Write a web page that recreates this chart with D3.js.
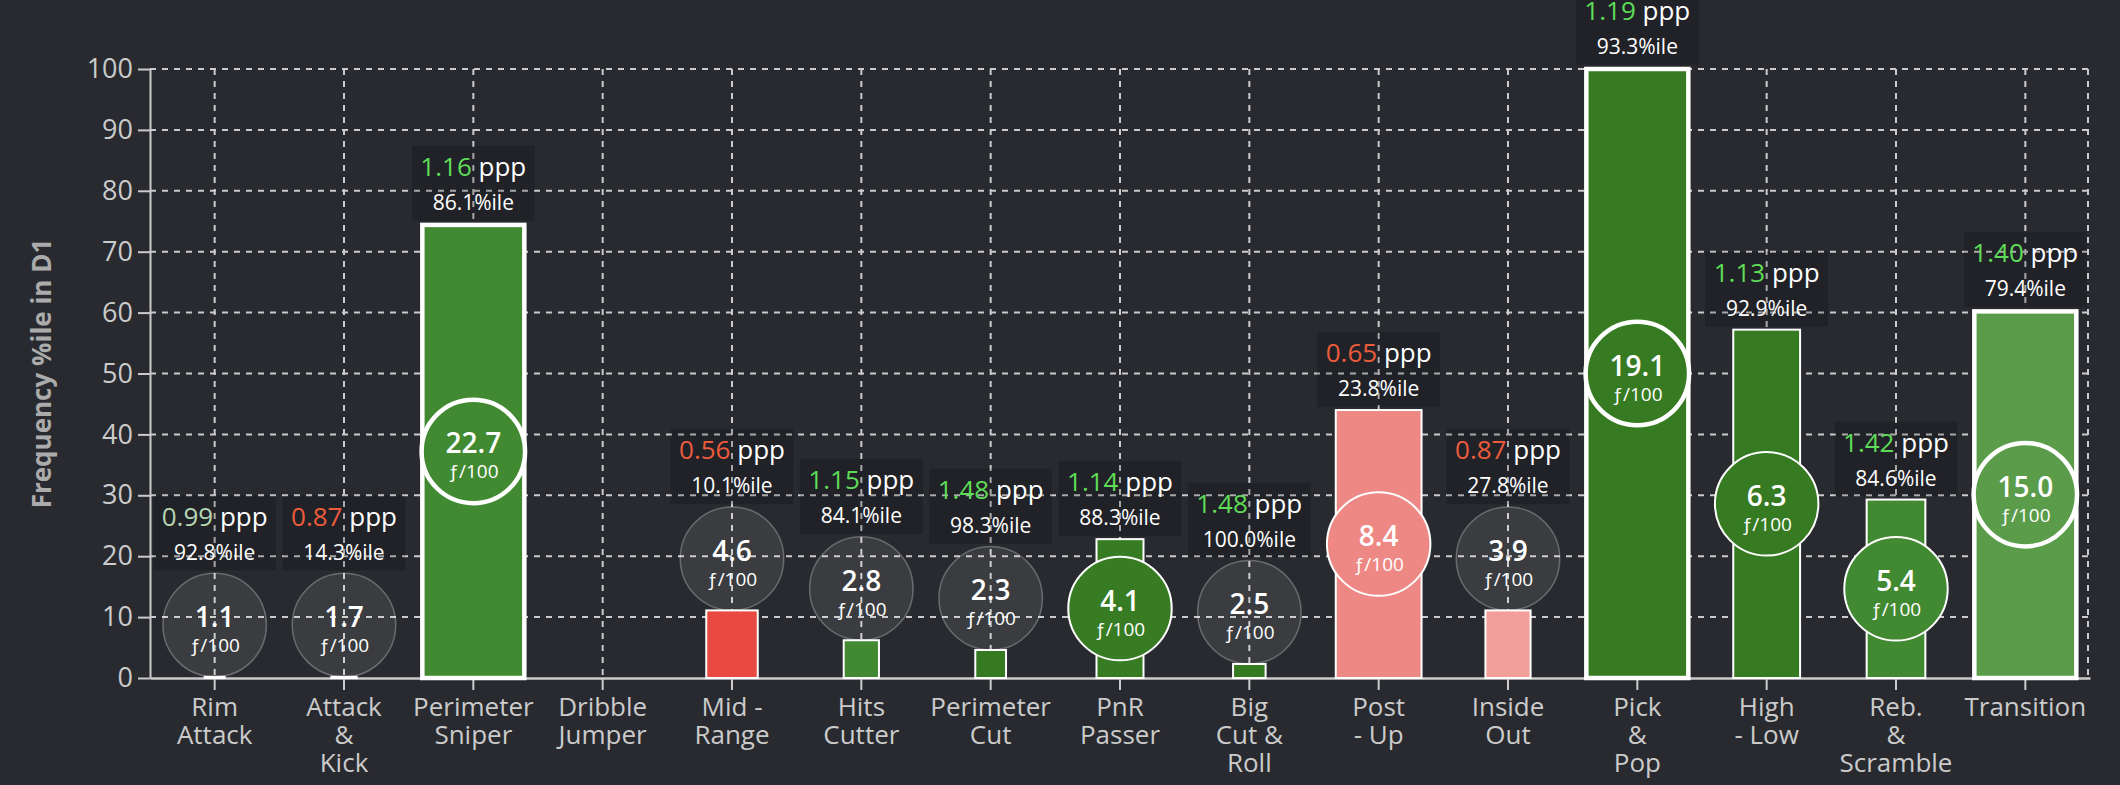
<!DOCTYPE html>
<html>
<head>
<meta charset="utf-8">
<script src="https://cdn.jsdelivr.net/npm/d3@7"></script>
<style>
  html, body { margin: 0; padding: 0; background: #282a2f; }
  svg { display: block; font-family: "Open Sans", "Noto Sans", sans-serif; }
</style>
</head>
<body>
<svg id="chart" width="2120" height="785"></svg>
<script>
// ---------------- DATA ----------------
const categories = [
  "Rim\nAttack", "Attack\n&\nKick", "Perimeter\nSniper", "Dribble\nJumper", "Mid -\nRange",
  "Hits\nCutter", "Perimeter\nCut", "PnR\nPasser", "Big\nCut &\nRoll", "Post\n- Up",
  "Inside\nOut", "Pick\n&\nPop", "High\n- Low", "Reb.\n&\nScramble", "Transition"
];
// bar height: frequency percentile in D1
const freqPct = [0.2, 0.2, 74.4, null, 11.1, 6.2, 4.6, 22.8, 2.3, 44.0, 11.1, 100, 57.2, 29.3, 60.2];
// possessions per 100 (circle label, bar width)
const fPer100 = [1.1, 1.7, 22.7, null, 4.6, 2.8, 2.3, 4.1, 2.5, 8.4, 3.9, 19.1, 6.3, 5.4, 15.0];
// points per possession
const ppp = [0.99, 0.87, 1.16, null, 0.56, 1.15, 1.48, 1.14, 1.48, 0.65, 0.87, 1.19, 1.13, 1.42, 1.40];
// ppp percentile
const pppPct = [92.8, 14.3, 86.1, null, 10.1, 84.1, 98.3, 88.3, 100.0, 23.8, 27.8, 93.3, 92.9, 84.6, 79.4];
const yTicks = [0, 10, 20, 30, 40, 50, 60, 70, 80, 90, 100];
const yTitle = "Frequency %ile in D1";

// ---------------- SETUP ----------------
const svg = d3.select("#chart");
const M = { left: 150, right: 2090, top: 69, bottom: 678 };
const AX = "#cbcbcb";

const x = d3.scaleBand().domain(categories).range([M.left, M.right]).padding(0);
const y = d3.scaleLinear().domain([0, 100]).range([M.bottom, M.top]);
const bw = x.bandwidth();
const r = bw * 0.4;
const widthScale = d3.scaleLinear().domain([0, 10.2]).range([10, 102]).clamp(true);
const strokeScale = d3.scaleThreshold().domain([10.2]).range([2, 4.5]);
const barColor = d3.scaleLinear()
  .domain([10, 24, 28, 50, 79.4, 84, 87, 88.3, 100])
  .range(["#e84a42", "#ee8985", "#f2a09d", "#eeeeee", "#5a9c4a", "#428a32", "#418a31", "#377b23", "#357921"])
  .clamp(true);
const pppColor = d3.scaleThreshold().domain([0.9, 1.05]).range(["#ec5b3c", "#b6d6b2", "#5edc58"]);

const rows = categories.map((c, i) => ({
  c, freq: freqPct[i], f: fPer100[i], ppp: ppp[i], pct: pppPct[i]
})).filter(d => d.freq != null);

rows.forEach(d => {
  d.cx = x(d.c) + bw / 2;
  d.w = widthScale(d.f);
  d.sw = strokeScale(d.f);
  d.top = y(d.freq);
  d.h = y(0) - y(d.freq);
  d.inside = d.h >= 2 * r;
  d.cy = d.inside ? d.top + d.h / 2 : d.top - r;
  d.csw = d.inside ? d.sw : 1.5;
  d.boxBottom = Math.min(d.top - d.sw / 2, d.cy - r - d.csw / 2) - 2;
});

// ---------------- GRID ----------------
const grid = svg.append("g");
grid.selectAll("line.h").data(yTicks.filter(t => t > 0)).join("line")
  .attr("x1", M.left).attr("x2", M.right)
  .attr("y1", d => y(d)).attr("y2", d => y(d))
  .attr("stroke", AX).attr("stroke-width", 2).attr("stroke-dasharray", "6,6");
grid.selectAll("line.v").data(categories).join("line")
  .attr("x1", d => x(d) + bw / 2).attr("x2", d => x(d) + bw / 2)
  .attr("y1", y(100)).attr("y2", y(0))
  .attr("stroke", AX).attr("stroke-width", 2).attr("stroke-dasharray", "6,6");
grid.append("line")
  .attr("x1", M.right - 2).attr("x2", M.right - 2)
  .attr("y1", y(100)).attr("y2", y(0))
  .attr("stroke", AX).attr("stroke-width", 2).attr("stroke-dasharray", "6,6");

// ---------------- AXES ----------------
const yAxisG = svg.append("g").attr("transform", `translate(${M.left},0)`)
  .call(d3.axisLeft(y).tickValues(yTicks).tickSize(12).tickSizeOuter(0).tickPadding(5));
yAxisG.select(".domain").attr("stroke", AX).attr("stroke-width", 2);
yAxisG.selectAll(".tick line").attr("stroke", AX).attr("stroke-width", 2);
yAxisG.selectAll(".tick text").attr("fill", AX).style("font-size", "27px")
  .style("font-family", "'Open Sans', sans-serif");

const xAxisG = svg.append("g").attr("transform", `translate(0,${M.bottom})`)
  .call(d3.axisBottom(x).tickSize(12).tickSizeOuter(0).tickPadding(8));
xAxisG.select(".domain").attr("stroke", AX).attr("stroke-width", 2.5);
xAxisG.selectAll(".tick line").attr("stroke", AX).attr("stroke-width", 2);
xAxisG.selectAll(".tick text")
  .attr("fill", AX).style("font-size", "26px").style("font-family", "'Open Sans', sans-serif")
  .each(function (d) {
    const t = d3.select(this);
    const lines = d.split("\n");
    t.text(null);
    lines.forEach((ln, k) => {
      t.append("tspan").attr("x", 0).attr("dy", k === 0 ? "0.71em" : "1.07em").text(ln);
    });
  })
  .attr("dy", null);

svg.append("text")
  .attr("transform", `translate(41,${(M.top + M.bottom) / 2}) rotate(-90)`)
  .attr("text-anchor", "middle").attr("dominant-baseline", "central")
  .attr("fill", "#ababab").style("font-size", "26px").style("font-weight", "700")
  .text(yTitle);

// ---------------- BARS ----------------
svg.append("g").selectAll("rect").data(rows).join("rect")
  .attr("x", d => d.cx - d.w / 2).attr("y", d => d.top)
  .attr("width", d => d.w).attr("height", d => d.h)
  .attr("fill", d => barColor(d.pct))
  .attr("stroke", "#ffffff").attr("stroke-width", d => d.sw);

// ---------------- CIRCLES ----------------
const cg = svg.append("g").selectAll("g").data(rows).join("g");
cg.append("circle")
  .attr("cx", d => d.cx).attr("cy", d => d.cy).attr("r", r)
  .attr("fill", d => d.inside ? barColor(d.pct) : "rgba(255,255,255,0.085)")
  .attr("stroke", d => d.inside ? "#ffffff" : "rgba(255,255,255,0.28)")
  .attr("stroke-width", d => d.csw);
cg.append("text")
  .attr("x", d => d.cx).attr("y", d => d.cy + 2)
  .attr("text-anchor", "middle").attr("fill", "#ffffff")
  .style("font-size", "28px").style("font-weight", "600")
  .text(d => d.f.toFixed(1));
cg.append("text")
  .attr("x", d => d.cx).attr("y", d => d.cy + 27)
  .attr("text-anchor", "middle").attr("fill", "#ffffff")
  .style("font-size", "19px")
  .text("ƒ/100");

// ---------------- LABEL BOXES ----------------
const lg = svg.append("g").selectAll("g").data(rows).join("g");
lg.append("rect")
  .attr("x", d => d.cx - bw * 0.475).attr("y", d => d.boxBottom - 75)
  .attr("width", bw * 0.95).attr("height", 75)
  .attr("fill", "rgba(0,0,0,0.17)");
const l1 = lg.append("text")
  .attr("x", d => d.cx).attr("y", d => d.boxBottom - 45)
  .attr("text-anchor", "middle").style("font-size", "26px");
l1.append("tspan").attr("fill", d => pppColor(d.ppp)).text(d => d.ppp.toFixed(2));
l1.append("tspan").attr("fill", "#ffffff").text(" ppp");
lg.append("text")
  .attr("x", d => d.cx).attr("y", d => d.boxBottom - 11)
  .attr("text-anchor", "middle").attr("fill", "#ffffff")
  .style("font-size", "21px")
  .text(d => d.pct.toFixed(1) + "%ile");
</script>
</body>
</html>
